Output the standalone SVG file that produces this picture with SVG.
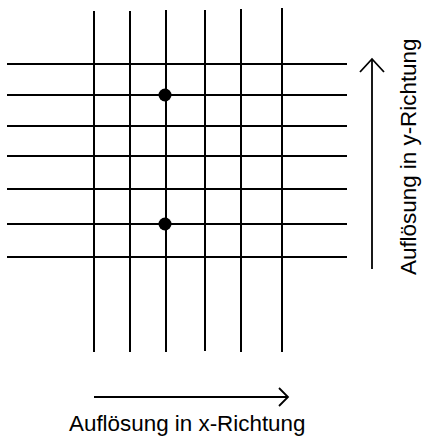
<svg xmlns="http://www.w3.org/2000/svg" width="423" height="438" viewBox="0 0 423 438">
<style>
.g{stroke:#000;stroke-width:2;fill:none}
.a{stroke:#000;stroke-width:1.8;fill:none}
.t{font-family:"Liberation Sans",Arial,sans-serif;font-size:22.4px;fill:#000}
</style>
<rect width="423" height="438" fill="#fff"/>
<g id="grid">
<line class="g" x1="94" y1="11" x2="94" y2="352"/>
<line class="g" x1="130" y1="11" x2="130" y2="352"/>
<line class="g" x1="166" y1="10" x2="166" y2="352"/>
<line class="g" x1="205" y1="10" x2="205" y2="351"/>
<line class="g" x1="241" y1="9" x2="241" y2="352"/>
<line class="g" x1="282" y1="8" x2="282" y2="352"/>
<line class="g" x1="7" y1="64" x2="347" y2="64"/>
<line class="g" x1="7" y1="95" x2="347" y2="95"/>
<line class="g" x1="7" y1="126" x2="347" y2="126"/>
<line class="g" x1="7" y1="156" x2="347" y2="156"/>
<line class="g" x1="7" y1="189" x2="347" y2="189"/>
<line class="g" x1="7" y1="224" x2="347" y2="224"/>
<line class="g" x1="7" y1="257" x2="347" y2="257"/>
</g>
<g id="points">
<circle cx="165" cy="95" r="6.5" fill="#000"/>
<circle cx="165" cy="224" r="6.5" fill="#000"/>
</g>
<g id="connectors">
<line class="a" x1="372" y1="269" x2="372" y2="60"/>
<polyline class="a" points="360,72 372,59 384,72"/>
<line class="a" x1="94" y1="397" x2="287" y2="397"/>
<polyline class="a" points="279,388 288,397 279,406"/>
</g>
<g id="labels">
<text class="t" x="69" y="431">Auflösung in x-Richtung</text>
<text class="t" transform="translate(416,275) rotate(-90)">Auflösung in y-Richtung</text>
</g>
</svg>
